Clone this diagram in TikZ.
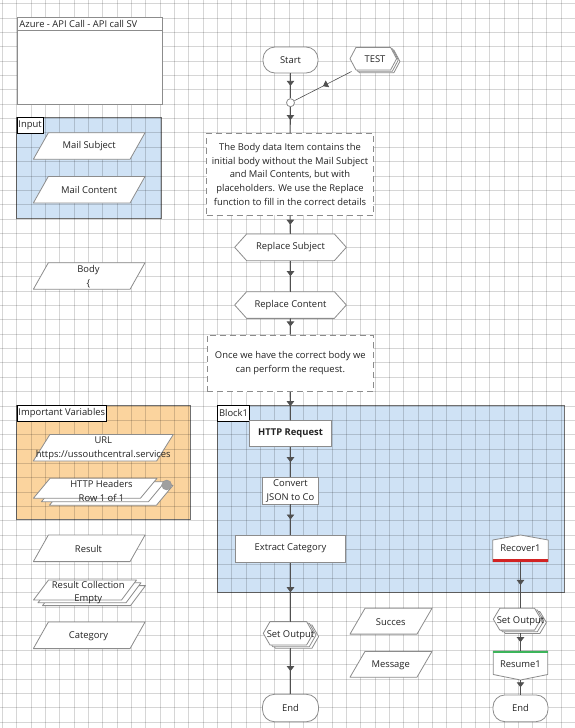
\documentclass[tikz,border=0pt]{standalone}
\usepackage{fontspec}
\setmainfont{Open Sans}
\usetikzlibrary{arrows.meta,decorations.markings,calc}
\definecolor{shapec}{RGB}{140,140,140}
\definecolor{linec}{RGB}{80,80,80}
\definecolor{blockblue}{RGB}{207,226,245}
\definecolor{blockorange}{RGB}{251,212,158}
\definecolor{txtc}{RGB}{35,35,35}
\definecolor{recred}{RGB}{210,35,35}
\definecolor{resgreen}{RGB}{60,180,90}
\tikzset{
  shp/.style={draw=shapec, fill=white, line width=0.8pt, line join=round},
  txt/.style={font=\fontsize{9.4}{13.7}\selectfont, text=txtc, align=center, inner sep=0pt},
  holder/.style={rectangle, inner sep=0pt, outer sep=0pt},
  term/.style={rectangle, rounded corners=12pt, draw=shapec, fill=white, line width=0.8pt, txt},
  proc/.style={rectangle, draw=shapec, fill=white, line width=0.8pt, txt},
  notebox/.style={rectangle, draw=shapec, fill=white, line width=0.7pt, dash pattern=on 6pt off 4pt, txt},
  blk/.style={rectangle, draw=shapec!80!black, line width=0.8pt, inner sep=0pt, outer sep=0pt, anchor=north west},
  lbl/.style={rectangle, draw=black, fill=white, line width=0.7pt, anchor=north west, font=\fontsize{9.4}{10}\selectfont, text=txtc, inner xsep=1.4pt, inner ysep=0pt, minimum height=15.5pt},
  gridline/.style={draw=black, opacity=0.16, line width=0.9pt},
  flow/.style={draw=linec, line width=0.8pt, postaction={decorate},
    decoration={markings, mark=at position 0.5 with {\arrow[linec]{Triangle[width=7.5pt,length=5pt]}}}},
}
\newcommand{\Para}[5]{% cx cy hw hh s
  \draw[shp] ({#1-#3-#5/2},{#2+#4}) -- ({#1-#3+#5/2},{#2-#4}) -- ({#1+#3+#5/2},{#2-#4}) -- ({#1+#3-#5/2},{#2+#4}) -- cycle;}
\newcommand{\Hex}[5]{% cx cy hw hh d
  \draw[shp] ({#1-#3},#2) -- ({#1-#3+#5},{#2-#4}) -- ({#1+#3-#5},{#2-#4}) -- ({#1+#3},#2) -- ({#1+#3-#5},{#2+#4}) -- ({#1-#3+#5},{#2+#4}) -- cycle;}
\begin{document}
\begin{tikzpicture}[x=1pt,y=-1pt]
\useasboundingbox (0,0) rectangle (575,728);
\fill[white] (0,0) rectangle (575,728);

% blocks
\node[blk, fill=blockblue, minimum width=145, minimum height=101] (inputblk) at (16.7,117.3) {};
\node[blk, fill=blockorange, minimum width=174, minimum height=114.3] (varblk) at (16.7,405) {};
\node[blk, fill=blockblue, minimum width=346.7, minimum height=187] (block1) at (217.3,405) {};

% grid
\foreach \i in {0,...,39} \draw[gridline] ({2.4+14.33*\i},0) -- ({2.4+14.33*\i},728);
\foreach \j in {0,...,50} \draw[gridline] (0,{3.6+14.37*\j}) -- (575,{3.6+14.37*\j});

% title box
\node[rectangle, draw=shapec, fill=white, line width=0.8pt, minimum width=145.6, minimum height=87, anchor=north west, inner sep=0pt] (titlebox) at (16.7,16.7) {};
\draw[shapec, line width=0.8pt] ($(titlebox.north west)+(0,14)$) -- ($(titlebox.north east)+(0,14)$);
\node[txt, anchor=west] (titletext) at (19.3,24) {Azure - API Call - API call SV};

% block labels
\node[lbl] (inputlbl) at (16.7,117.3) {Input};
\node[lbl] (varlbl) at (16.7,405) {Important Variables};
\node[lbl] (blocklbl) at (217.3,405) {Block1};

% data items
\Para{89.2}{146}{48.35}{13.3}{15}
\node[txt] (mailsubj) at (89.2,146.5) {Mail Subject};
\Para{89.2}{189.7}{48.35}{13.3}{15}
\node[txt] (mailcont) at (89.2,190.2) {Mail Content};
\Para{89.2}{276}{48.35}{13.3}{15}
\node[txt] (body) at (88.5,276.5) {Body\\\{};
\Para{103.3}{447.7}{61.7}{13.3}{16.7}
\node[txt] (url) at (103.3,448.3) {URL\\https://ussouthcentral.services};
\Para{111.2}{495.3}{53.5}{10}{16.7}
\Para{103.2}{491.8}{53.5}{10}{16.7}
\Para{95.2}{488.3}{53.5}{10}{16.7}
\node[circle, fill=gray!75, draw=gray!85, minimum size=10pt, inner sep=0pt] (hhdot) at (166.7,485) {};
\node[txt] (headers) at (101.5,491.3) {HTTP Headers\\Row 1 of 1};
\Para{89.2}{548.3}{48.35}{13.3}{15}
\node[txt] (result) at (88.5,549) {Result};
\Para{94}{595.6}{44}{10}{15}
\Para{89.5}{592.8}{44}{10}{15}
\Para{85}{590}{44}{10}{15}
\node[txt] (rescoll) at (88.3,592.5) {Result Collection\\Empty};
\Para{89.2}{635.3}{48.35}{13.3}{15}
\node[txt] (category) at (88.5,636.3) {Category};
\Para{391}{621.2}{33.5}{12.9}{15}
\node[txt] (succes) at (390.7,621.7) {Succes};
\Para{391}{664.3}{33.5}{12.9}{15}
\node[txt] (message) at (390.7,665) {Message};

% main flow
\node[term, minimum width=55pt, minimum height=26pt] (start) at (290.5,60) {Start};
\Hex{376.6}{61.4}{23.3}{11.3}{6}
\Hex{375}{60}{23.3}{11.3}{6}
\Hex{373.3}{58.7}{23.3}{11.3}{6}
\node[txt, holder, minimum width=48pt, minimum height=24pt] (test) at (375,59.5) {TEST};
\node[circle, draw=shapec, fill=white, line width=0.8pt, minimum size=8pt, inner sep=0pt] (junc) at (290.5,102.7) {};
\node[notebox, minimum width=166.6pt, minimum height=81.7pt] (note1) at (290,174.2) {The Body data Item contains the\\initial body without the Mail Subject\\and Mail Contents, but with\\placeholders. We use the Replace\\function to fill in the correct details};
\Hex{290.5}{247.3}{55.85}{13.35}{12}
\node[txt, holder, minimum width=111.7pt, minimum height=26.7pt] (rsubj) at (290.5,247.3) {Replace Subject};
\Hex{290.5}{305}{55.85}{13.35}{12}
\node[txt, holder, minimum width=111.7pt, minimum height=26.7pt] (rcont) at (290.5,305) {Replace Content};
\node[notebox, minimum width=166pt, minimum height=56.7pt] (note2) at (290.3,363.3) {Once we have the correct body we\\can perform the request.};
\node[proc, minimum width=82.7pt, minimum height=26pt, font=\fontsize{9.4}{13.7}\selectfont\bfseries] (http) at (290.5,433.7) {HTTP Request};
\node[proc, minimum width=56pt, minimum height=26.3pt] (conv) at (290.5,490.8) {Convert\\JSON to Co};
\node[proc, minimum width=110.3pt, minimum height=27.3pt] (extract) at (290.5,548.7) {Extract Category};
\Hex{293.6}{636.6}{25}{11.7}{6.7}
\Hex{291}{635}{25}{11.7}{6.7}
\Hex{288.3}{633.3}{25}{11.7}{6.7}
\node[txt, holder, minimum width=55pt, minimum height=26.6pt] (setout1) at (290.5,635) {Set Output};
\node[term, minimum width=56pt, minimum height=27.4pt] (end1) at (290.5,708) {End};

% recovery flow
\draw[shp] (492.7,540) -- (520.5,535) -- (548.3,540) -- (548.3,561.7) -- (492.7,561.7) -- cycle;
\draw[recred, line width=2.5pt] (492.7,560.4) -- (548.3,560.4);
\node[txt, holder, minimum width=55.6pt, minimum height=26.7pt] (recover) at (520.5,548.3) {Recover1};
\Hex{522.5}{622.5}{23.9}{10.9}{6.5}
\Hex{519.9}{620.9}{23.9}{10.9}{6.5}
\Hex{517.2}{619.2}{23.9}{10.9}{6.5}
\node[txt, holder, minimum width=54pt, minimum height=25pt] (setout2) at (520.5,620.8) {Set Output};
\draw[shp] (493.3,651) -- (547.7,651) -- (547.7,674.5) -- (520.5,680) -- (493.3,674.5) -- cycle;
\draw[resgreen, line width=2.5pt] (493.3,652.2) -- (547.7,652.2);
\node[txt, holder, minimum width=54.4pt, minimum height=29pt] (resume) at (520.5,665.5) {};
\node[txt] (resumetext) at (520.5,664.5) {Resume1};
\node[term, minimum width=55pt, minimum height=26.7pt] (end2) at (520.5,708.3) {End};

% connectors
\draw[flow] (start) -- (junc);
\draw[flow, line width=0.6pt] (test) -- (junc);
\draw[flow] (junc) -- (note1);
\draw[flow] (note1) -- (rsubj);
\draw[flow] (rsubj) -- (rcont);
\draw[flow] (rcont) -- (note2);
\draw[flow] (note2) -- (http);
\draw[flow] (http) -- (conv);
\draw[flow] (conv) -- (extract);
\draw[flow] (extract) -- (setout1);
\draw[flow] (setout1) -- (end1);
\draw[flow] (recover) -- (setout2);
\draw[flow] (setout2) -- (resume);
\draw[flow] (resume) -- (end2);
\end{tikzpicture}
\end{document}
